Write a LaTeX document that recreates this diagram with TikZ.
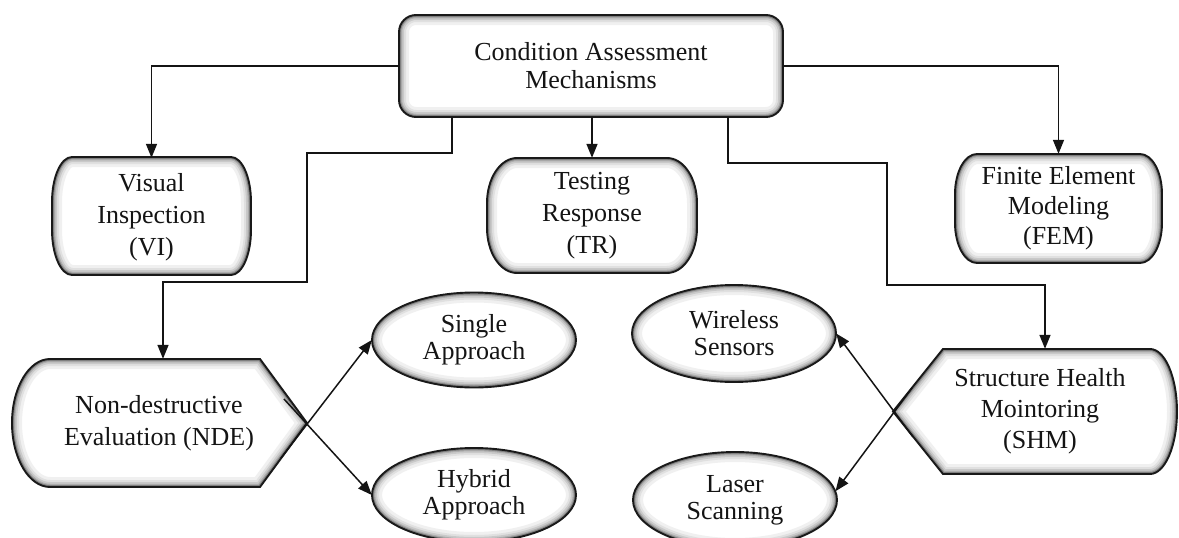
\documentclass[tikz,border=0pt]{standalone}
\usepackage{fontspec}
\setmainfont{Liberation Serif}
\usetikzlibrary{arrows.meta,shapes.geometric}
\newcommand\figfont[1]{\fontsize{26}{#1}\selectfont}
\newcommand\glowfill[2]{%
  \fill[white,#1] #2;
  \begin{scope}
    \clip[#1] #2;
    \draw[#1,line width=20pt,black!6] #2;
    \draw[#1,line width=14pt,black!12] #2;
    \draw[#1,line width=10pt,black!21] #2;
    \draw[#1,line width=6.5pt,black!32] #2;
    \draw[#1,line width=4pt,black!50] #2;
  \end{scope}
  \draw[#1,line width=1.9pt,black!90] #2;}
\newcommand\barrel[6]{(#1+#5,#2) -- (#3-#5,#2) arc[start angle=-90,end angle=0,x radius=#5,y radius=#6] -- (#3,#4-#6) arc[start angle=0,end angle=90,x radius=#5,y radius=#6] -- (#1+#5,#4) arc[start angle=90,end angle=180,x radius=#5,y radius=#6] -- (#1,#2+#6) arc[start angle=180,end angle=270,x radius=#5,y radius=#6] -- cycle}
\tikzset{
  lbl/.style={align=center, inner sep=0pt, text=black!92},
  oval/.style={lbl, ellipse, minimum width=204, minimum height=96, font=\figfont{27}},
  arr/.style={line width=1.5pt, black!92, -{Triangle[length=14pt,width=11pt]}}
}
\begin{document}
\begin{tikzpicture}[x=1pt,y=-1pt]
\useasboundingbox (0,0) rectangle (1179,538);
\clip (0,0) rectangle (1179,538);
\fill[white] (0,0) rectangle (1179,538);

% shapes
\glowfill{}{\barrel{399}{15}{783}{117}{17}{17}}
\glowfill{}{\barrel{52}{157}{251}{275}{20}{45}}
\glowfill{}{\barrel{487}{158}{697}{273}{30}{45}}
\glowfill{}{\barrel{955}{154}{1162}{263}{22}{40}}
\glowfill{}{(50,359) -- (260,359) -- (307,423) -- (260,487) -- (50,487) arc[start angle=90,end angle=270,x radius=38,y radius=64] -- cycle}
\glowfill{}{(943,349) -- (1150,349) arc[start angle=-90,end angle=90,x radius=27,y radius=62.5] -- (943,474) -- (893,411.5) -- cycle}
\glowfill{}{(474,340) ellipse[x radius=102, y radius=47.5]}
\glowfill{}{(474,495) ellipse[x radius=102, y radius=47]}
\glowfill{}{(734,333.5) ellipse[x radius=102, y radius=48.5]}
\glowfill{}{(735,500) ellipse[x radius=102, y radius=48]}

% nodes
\node[lbl, font=\figfont{28}, minimum width=384, minimum height=102] (cam) at (591,66) {Condition Assessment\\Mechanisms};
\node[lbl, font=\figfont{32}, minimum width=199, minimum height=118] (vi) at (151.5,217) {Visual\\Inspection\\(VI)};
\node[lbl, font=\figfont{32}, minimum width=210, minimum height=115] (tr) at (592,215.5) {Testing\\Response\\(TR)};
\node[lbl, font=\figfont{30}, minimum width=207, minimum height=109] (fem) at (1058.5,208.5) {Finite Element\\Modeling\\(FEM)};
\node[lbl, font=\figfont{32}, minimum width=294, minimum height=128] (nde) at (159,423) {Non-destructive\\Evaluation (NDE)};
\node[lbl, font=\figfont{31}, minimum width=240, minimum height=125] (shm) at (1040,411.5) {Structure Health\\Mointoring\\(SHM)};
\node[oval] (single) at (474,340) {Single\\Approach};
\node[oval] (hybrid) at (474,495) {Hybrid\\Approach};
\node[oval] (wireless) at (734,333.5) {Wireless\\Sensors};
\node[oval] (laser) at (735,500) {Laser\\Scanning};

% bend points and free ends
\coordinate (l1) at (307,153);
\coordinate (l2) at (307,282);
\coordinate (r1) at (887,163);
\coordinate (r2) at (887,285);
\coordinate (ns) at (281,458);
\coordinate (nh) at (284,399);
\coordinate (sw) at (913,437);
\coordinate (sl) at (912,388);

% connectors
\draw[arr] (cam.west) -| (vi.north);
\draw[arr] (cam.east) -| (fem.north);
\draw[arr] (cam.south -| tr.north) -- (tr.north);
\draw[arr] ([xshift=-139pt]cam.south) |- (l1) -- (l2) -| ([xshift=4pt]nde.north);
\draw[arr] ([xshift=137pt]cam.south) |- (r1) -- (r2) -| ([xshift=5pt]shm.north);
\draw[arr] (ns) -- (single.west);
\draw[arr] (nh) -- (hybrid.west);
\draw[arr] (sw) -- (wireless.east);
\draw[arr] (sl) -- (laser.5);
\end{tikzpicture}
\end{document}
